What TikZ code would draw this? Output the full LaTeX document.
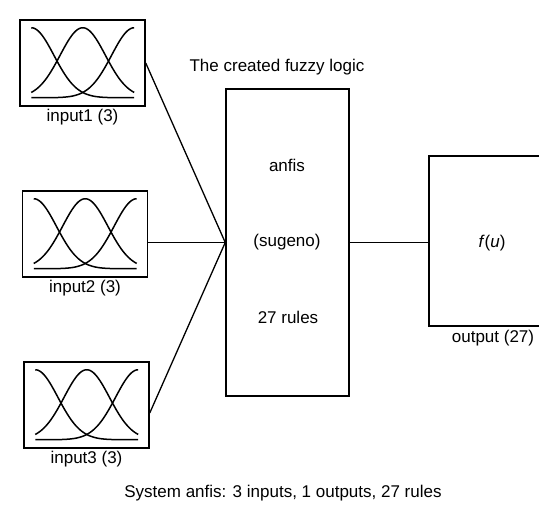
\documentclass[tikz,border=0pt]{standalone}
\usepackage{fontspec}
\setmainfont{Liberation Sans}
\usetikzlibrary{positioning}
\tikzset{
  mfbox/.style={rectangle, draw, line width=1.5pt, minimum width=125pt, minimum height=86pt,
                inner sep=0pt},
  fisbox/.style={rectangle, draw, line width=1.5pt, minimum width=123pt, minimum height=307pt,
                 inner sep=0pt},
  mf/.style={line width=1.5pt},
  ln/.style={line width=1.3pt},
  lbl/.style={inner sep=1pt}
}
% three gaussian membership functions inside a box
\newcommand{\mfcurves}[1]{%
  \foreach \c in {0,0.5,1}
    \draw[mf, shift={(#1.south west)}] plot[domain=0:1, samples=70]
      ({12+103*\x}, {-9-70*exp(-((\x-\c)^2)/0.0968)});
}

\begin{document}
\begin{tikzpicture}[x=1pt, y=-1pt, every node/.style={font=\fontsize{17}{20}\selectfont}]
  \useasboundingbox (0,0) rectangle (539,508);
  \clip (0,0) rectangle (539,508);

  % inputs
  \node[mfbox] (in1) at (82.5,63) {};
  \node[mfbox] (in2) at (85,234) {};
  \node[mfbox] (in3) at (86.5,405) {};
  \mfcurves{in1}
  \mfcurves{in2}
  \mfcurves{in3}
  \node[lbl, below=1pt of in1] (l1) {input1 (3)};
  \node[lbl, below=1pt of in2] (l2) {input2 (3)};
  \node[lbl, below=1pt of in3] (l3) {input3 (3)};

  % fuzzy inference system
  \node[fisbox] (fis) at (287.5,242.5) {};
  \node (ttl) at (277,67) {The created fuzzy logic};
  \node (t1) at (287,165) {anfis};
  \node (t2) at (287,242) {(sugeno)};
  \node (t3) at (288,317) {27 rules};

  % output (right edge lies outside the picture)
  \node[rectangle, draw, line width=1.5pt, minimum width=131pt, minimum height=170pt, inner sep=0pt]
    (out) at (494.5,241) {};
  \node (fu) at (492,243) {\textit{f}(\textit{u})};
  \node (lo) at (493,338) {output (27)};

  % connectors
  \draw[ln] (in1.east) -- (fis.west);
  \draw[ln] (fis.west -| in2.east) -- (fis.west);
  \draw[ln] ([yshift=-8pt]in3.east) -- (fis.west);
  \draw[ln] (fis.east) -- (fis.east -| out.west);

  \node (cap) at (283,493) {System anfis: 3 inputs, 1 outputs, 27 rules};
\end{tikzpicture}
\end{document}
